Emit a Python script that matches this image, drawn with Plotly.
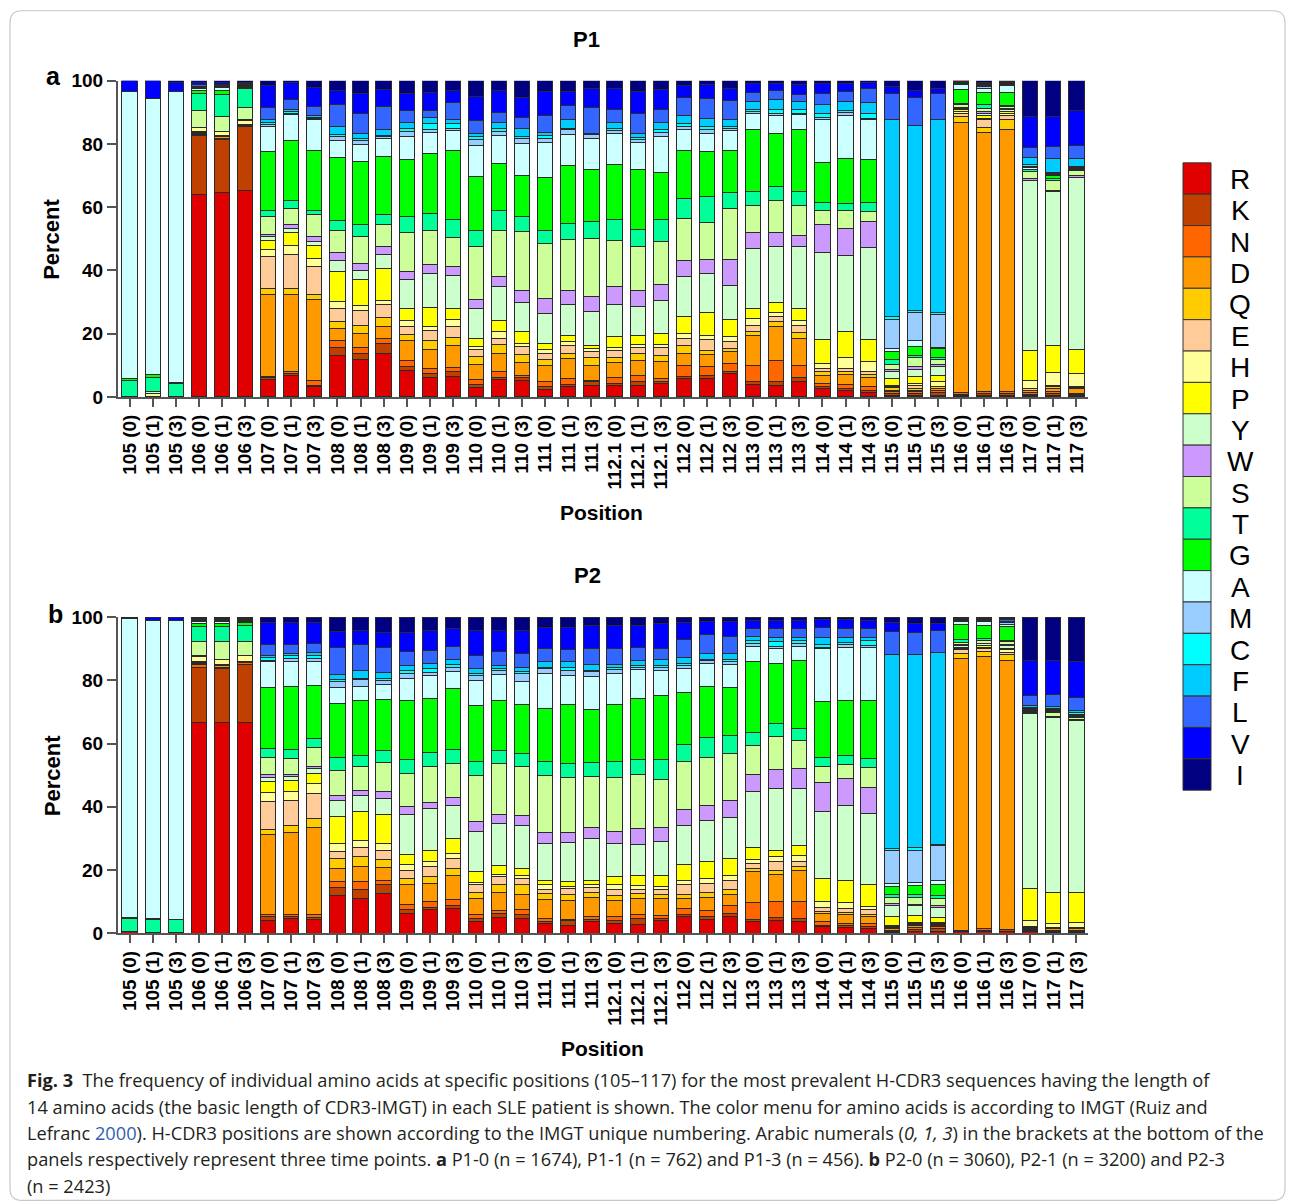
import plotly.graph_objects as go

# Page placement model (measured): the figure sits 8px from the left edge and
# the captured picture maps figure y to S*(T + y).  Reference pixel positions
# are converted through px()/py() below.
FIG_W, FIG_H = 1279, 1206
DX = 8
S, T = 0.982, 18.6

POSITIONS = ["105", "106", "107", "108", "109", "110", "111", "112.1", "112", "113", "114", "115", "116", "117"]
TIMES = ["0", "1", "3"]
CATEGORIES = [f"{p} ({t})" for p in POSITIONS for t in TIMES]

AMINO_ACIDS = ["R", "K", "N", "D", "Q", "E", "H", "P", "Y", "W", "S", "T", "G", "A", "M", "C", "F", "L", "V", "I"]
AA_COLORS = ["#E00000", "#C04000", "#FF6600", "#FF9900", "#FFCC00", "#FFCC99", "#FFFF99", "#FFFF00",
             "#CCFFCC", "#CC99FF", "#CCFF99", "#00FF99", "#00FF00", "#CCFFFF", "#99CCFF", "#00FFFF",
             "#00CCFF", "#3366FF", "#0000FF", "#000080"]

# ---------------- P1 (panel a), percent per amino acid, 42 bars ----------------
P1_R = [.3, .3, .3, 64.1, 64.7, 65.2, 5.5, 6.9, 3.4, 13.2, 11.8, 13.9, 8.4, 6.1, 6.5, 3.0, 5.5, 5.1, 2.3, 3.4, 3.7, 3.7, 3.7, 4.2, 5.8, 5.8, 7.4, 4.0, 3.7, 4.8, 2.6, 1.9, 1.3, .5, .5, .5, .5, .5, .5, .5, .5, .5]
P1_K = [0, 0, 0, 18.5, 16.6, 20.3, .5, .5, .3, 2.6, 1.9, 3.0, 1.1, 1.3, 1.4, 1.0, .8, 1.0, .9, .6, 1.1, .5, 1.1, .6, .7, 1.1, .8, .8, 1.1, 1.3, .8, .7, .6, .6, .6, .8, .3, .6, .6, .3, .6, .3]
P1_N = [0, 0, 0, .5, .5, .3, .5, .5, 1.6, 1.9, 2.1, 1.6, 2.1, 1.6, 1.3, 1.5, 1.8, .8, 1.6, 1.8, .5, 2.1, 2.1, 1.0, 3.5, 2.8, 2.4, 5.2, 6.8, 3.9, .8, 1.4, 1.3, .5, .5, .6, .5, .5, .5, .5, .5, .3]
P1_D = [0, 0, 0, .3, .5, .2, 26.0, 24.6, 25.5, 3.9, 4.3, 3.9, 6.1, 6.0, 7.2, 4.8, 5.6, 3.9, 5.2, 6.3, 4.7, 4.5, 4.7, 5.3, 3.9, 3.8, 3.7, 9.5, 10.8, 8.5, 2.7, 3.2, 2.9, .5, .5, .7, 85.5, 82.0, 82.9, .6, 1.0, 1.5]
P1_Q = [0, 0, 0, .3, .3, 0, 1.8, 1.8, 1.7, 2.2, 2.6, 2.7, 2.0, 2.7, 2.3, 2.6, 3.0, 2.6, 1.8, 1.8, 2.5, 1.7, 2.1, 2.1, 2.5, 1.3, 1.0, 1.1, 1.4, 1.8, 1.0, .9, 1.1, .9, .5, .6, 1.9, 1.7, 3.4, .3, .6, .3]
P1_E = [0, 0, 0, .3, .2, .2, 10.1, 10.6, 8.7, 4.2, 4.5, 4.3, 2.7, 3.4, 3.7, 2.1, 1.8, 2.7, 2.1, 2.5, 1.8, 2.3, 2.1, 2.6, 2.1, 3.4, 2.1, 2.1, 1.5, 2.4, 1.1, .9, 1.0, .4, 1.1, .2, 1.1, 2.3, 1.0, .4, .3, .3]
P1_H = [0, .8, 0, 1.3, 1.1, 1.1, 2.1, 3.1, 2.6, 2.1, 1.8, 1.2, 1.7, 1.1, 2.1, 1.1, 2.1, .8, 1.1, 1.0, 1.0, 1.0, .9, .9, 1.6, 1.3, 1.6, 2.1, 1.3, 1.6, 1.6, 3.5, 2.9, .3, .5, 1.4, .5, .6, .9, 2.7, 4.1, 4.2]
P1_P = [0, 0, 0, 0, 0, 0, 3.1, 4.0, 4.2, 9.5, 8.2, 10.1, 3.9, 6.1, 3.5, 2.4, 3.5, 3.9, 1.9, 2.1, 1.1, 3.2, 2.8, 3.4, 5.5, 7.1, 5.5, 3.2, 3.2, 3.7, 7.6, 8.3, 7.1, 2.1, 2.3, 2.1, .5, .7, .5, 9.5, 8.8, 7.6]
P1_Y = [0, .5, 0, 0, .2, 0, 1.3, 1.3, 1.1, 3.7, 2.9, 4.4, 9.0, 10.6, 10.5, 9.5, 10.7, 9.0, 9.5, 9.8, 10.5, 10.4, 9.2, 10.5, 12.6, 12.3, 10.6, 19.0, 17.7, 19.7, 27.4, 23.8, 29.0, 2.1, 2.2, 2.8, .5, .9, .7, 53.8, 48.5, 54.5]
P1_W = [0, 0, 0, 0, 0, .3, .6, 1.1, 1.6, 2.3, 2.1, 2.4, 2.8, 3.1, 2.7, 2.8, 3.2, 4.0, 4.8, 4.5, 4.8, 5.4, 5.1, 5.0, 5.1, 4.6, 8.4, 5.0, 4.5, 3.5, 8.8, 8.7, 8.4, .8, .8, .6, .4, .5, .2, .6, .3, .4]
P1_S = [0, 0, 0, 5.3, 4.6, 4.1, 5.5, 5.3, 6.9, 6.9, 8.5, 6.9, 12.2, 10.8, 9.3, 16.7, 14.8, 18.5, 17.4, 16.0, 18.5, 14.8, 13.9, 13.5, 13.2, 11.8, 16.2, 8.4, 10.0, 9.2, 4.5, 5.8, 3.0, 1.6, 3.0, 1.5, .7, 1.0, .7, 2.1, 3.2, 1.7]
P1_T = [5.0, 4.7, 3.9, 5.5, 7.1, 5.8, 1.9, 2.4, 1.3, 3.3, 4.0, 3.2, 5.0, 5.1, 5.7, 5.3, 6.1, 4.7, 4.0, 5.1, 5.2, 6.4, 5.3, 6.9, 6.3, 8.1, 4.9, 4.5, 4.7, 4.5, 2.6, 2.1, 2.9, 1.5, .7, .7, .5, 1.1, .2, .5, .8, .4]
P1_G = [.5, .9, .3, .8, 1.0, .3, 18.7, 19.0, 19.2, 20.0, 19.7, 18.6, 18.2, 19.2, 21.9, 16.9, 15.0, 12.9, 16.9, 18.2, 16.4, 17.6, 19.0, 15.0, 15.3, 14.2, 13.2, 19.8, 16.5, 19.6, 12.6, 14.3, 13.5, 2.5, 2.9, 2.8, 4.2, 3.9, 4.2, .2, .7, .3]
P1_A = [90.8, 87.1, 92.1, .5, 1.0, .5, 7.9, 8.1, 9.5, 5.3, 5.6, 5.6, 7.2, 6.5, 6.1, 9.7, 8.7, 10.4, 11.0, 9.8, 10.0, 9.8, 8.5, 11.4, 6.4, 5.8, 6.4, 5.1, 5.7, 4.7, 13.8, 13.4, 12.6, 1.0, 1.6, .3, 1.6, 1.4, 2.1, .6, .6, .2]
P1_M = [0, 0, 0, .3, .2, .3, .6, .6, .6, 1.3, 1.1, .5, 1.5, 1.1, .8, 1.9, 1.3, 1.5, 1.3, 1.6, 1.1, .9, 1.0, 1.2, 1.0, 1.3, .8, .5, .6, .6, .5, 1.1, .6, 9.2, 8.9, 10.6, .3, .4, .3, .3, .2, .2]
P1_C = [0, 0, 0, .2, .2, 0, .7, .4, .3, .7, .7, .3, 1.0, 1.7, 1.4, 1.1, 1.1, .6, .8, .5, .3, .7, .7, .9, 1.1, .8, .5, .7, 1.5, 1.2, 1.4, .6, 1.6, .8, .6, .4, .2, .3, .3, .5, .3, .2]
P1_F = [0, 0, 0, .3, .2, .2, .8, .6, .5, 2.4, 1.4, 2.1, 1.9, 2.0, 1.5, 1.0, 1.8, 2.4, 1.0, 2.6, .2, 1.8, 1.2, 2.3, 2.3, 2.7, 2.1, 2.5, 3.0, 2.5, 2.8, 2.9, 3.3, 62.6, 58.5, 61.3, .2, .3, .2, 2.2, 4.5, 2.4]
P1_L = [0, 0, 0, .6, .3, .3, 4.1, 3.4, 2.9, 7.1, 6.6, 7.2, 3.7, 2.2, 5.2, 4.0, 3.2, 3.7, 5.3, 4.5, 8.3, 4.0, 6.4, 4.2, 5.9, 6.3, 6.2, 2.8, 2.9, 2.1, 3.5, 3.1, 4.6, 8.0, 9.1, 8.0, .3, .4, .2, 3.2, 3.7, 4.2]
P1_V = [3.4, 5.7, 2.7, .7, .8, .4, 6.8, 5.1, 6.1, 4.3, 6.1, 5.2, 5.6, 5.7, 3.8, 7.6, 6.8, 6.3, 7.7, 4.5, 5.7, 6.9, 6.8, 6.1, 3.6, 4.2, 3.9, 2.8, 2.2, 3.1, 3.0, 2.4, 1.6, 2.3, 2.1, 1.8, .3, .4, .4, 10.0, 9.5, 11.0]
P1_I = [0, 0, .7, .5, .5, .5, 1.5, .7, 2.0, 3.1, 4.1, 2.9, 3.9, 3.7, 3.1, 5.0, 3.2, 5.2, 3.4, 3.4, 2.6, 2.3, 3.4, 2.9, 1.6, 1.3, 2.3, .9, .9, 1.3, .9, 1.0, .7, 1.8, 3.1, 2.3, 0, .5, .2, 11.2, 11.3, 9.5]

# ---------------- P2 (panel b) ----------------
P2_R = [.5, .2, .3, 66.8, 66.6, 66.6, 4.2, 4.7, 4.5, 11.9, 11.1, 12.6, 6.3, 7.4, 7.7, 3.7, 4.9, 4.7, 3.2, 2.4, 3.7, 3.2, 2.8, 3.9, 5.3, 4.5, 5.3, 3.7, 3.9, 3.7, 2.1, 1.8, 1.6, .3, .5, .7, .5, .6, .5, .5, .3, .4]
P2_K = [0, 0, 0, 17.4, 17.1, 18.3, 1.1, .7, .4, 2.5, 2.6, 2.7, 1.1, .7, 1.2, 1.0, 1.4, 1.1, .6, 1.5, .8, 1.0, 1.9, .8, .7, .8, 1.0, .8, 1.0, 1.0, .3, .6, .5, .4, .6, .7, .3, .3, .6, .3, .3, .2]
P2_N = [0, 0, 0, .7, .5, .7, .5, .6, .9, 1.9, 2.6, 1.5, 1.8, 2.1, 1.9, 1.1, .8, 1.6, .9, .6, .8, 1.1, 1.1, .9, 1.9, 1.8, 2.6, 5.3, 5.3, 5.5, 1.3, .8, 1.1, .3, .7, .7, .2, .5, .2, .3, .3, .3]
P2_D = [0, 0, 0, .3, .5, .2, 25.3, 25.9, 27.6, 4.2, 4.8, 3.9, 6.1, 5.6, 7.4, 5.3, 5.8, 4.9, 6.1, 6.0, 6.0, 5.2, 5.3, 5.5, 3.2, 4.2, 3.4, 9.7, 8.4, 9.5, 2.6, 2.8, 2.1, .4, .6, .4, 85.8, 86.0, 85.0, .5, .5, .5]
P2_Q = [0, 0, 0, .3, .1, .1, 1.8, 2.3, 2.9, 3.0, 3.1, 2.5, 1.9, 2.1, 2.3, 1.8, 2.6, 3.0, 1.8, 1.8, 1.6, 1.6, 1.5, 1.2, 1.2, 1.6, 1.4, 1.0, 1.4, 1.4, .5, .6, .7, .5, .4, .4, 1.8, 1.8, 1.8, .2, .2, .3]
P2_E = [0, 0, 0, .3, .1, .1, 8.7, 7.9, 7.9, 2.5, 2.9, 3.1, 2.8, 3.2, 3.0, 2.4, 2.4, 2.1, 1.4, 1.9, 1.5, 1.9, 1.4, 1.7, 3.2, 2.9, 3.1, 1.6, 2.6, 1.7, 1.3, 1.3, 1.4, .3, .4, .2, 1.2, .8, .8, .2, .1, .1]
P2_H = [0, 0, 0, 1.6, 1.6, 1.8, 2.9, 2.8, 3.2, 2.4, 2.4, 2.1, 1.8, 1.5, 1.8, .8, .7, .8, 1.3, .5, 1.1, 1.3, 1.1, .7, 1.3, 1.4, 1.4, 1.1, 1.6, 1.7, 1.9, 1.9, 1.0, .2, .2, .3, .4, .4, .8, 2.2, 1.5, 1.7]
P2_P = [0, 0, 0, 0, 0, 0, 3.6, 3.5, 3.1, 8.4, 8.9, 9.2, 3.1, 3.7, 4.7, 3.4, 2.8, 2.3, 1.5, 1.6, 1.3, 2.6, 3.3, 3.5, 5.0, 5.6, 5.5, 3.9, 2.1, 3.2, 7.2, 7.0, 7.1, 2.9, 2.2, 1.5, .3, .6, .4, 10.0, 9.7, 9.4]
P2_Y = [0, 0, 0, .2, .2, .2, 1.1, 1.1, 1.6, 5.3, 5.3, 5.0, 12.7, 13.2, 10.5, 12.8, 13.3, 13.5, 11.6, 12.4, 13.2, 10.5, 9.7, 10.7, 12.4, 13.0, 12.8, 17.8, 19.5, 18.1, 21.2, 23.5, 22.4, 3.6, 3.1, 3.2, .5, .5, .9, 55.3, 55.5, 54.5]
P2_W = [0, 0, 0, .1, 0, 0, 1.0, .7, .8, 1.4, 1.6, 2.1, 2.4, 1.9, 2.3, 3.2, 2.9, 3.2, 3.5, 3.2, 3.4, 3.9, 5.1, 4.5, 5.1, 4.7, 5.6, 5.3, 6.1, 6.3, 9.3, 8.6, 8.1, .5, .4, .8, .3, .3, .2, .3, .2, .2]
P2_S = [0, 0, 0, 4.5, 5.5, 4.2, 5.3, 5.1, 6.0, 8.1, 7.3, 9.3, 10.5, 11.2, 10.9, 14.3, 16.1, 15.4, 17.9, 17.3, 16.1, 16.9, 17.0, 15.3, 14.9, 15.0, 14.7, 9.3, 10.2, 9.0, 5.2, 4.5, 6.3, 1.9, 2.2, 2.2, .8, .8, 1.0, .4, 1.2, .8]
P2_T = [4.2, 4.3, 4.0, 4.7, 4.9, 5.1, 2.9, 2.9, 2.7, 3.9, 3.5, 3.9, 4.6, 4.6, 4.5, 4.4, 4.2, 4.2, 4.6, 4.5, 4.5, 5.2, 4.9, 6.4, 5.5, 6.3, 5.8, 4.0, 4.2, 3.8, 2.6, 2.9, 3.0, 1.0, 1.0, 1.0, .8, .6, .3, .2, .2, .2]
P2_G = [.3, .2, .2, 1.1, 1.0, 1.0, 19.2, 19.7, 16.8, 17.1, 17.6, 16.1, 18.6, 17.2, 19.2, 17.9, 15.8, 15.5, 16.7, 18.6, 16.8, 17.9, 19.1, 20.0, 16.4, 16.1, 15.0, 22.5, 19.0, 21.4, 17.9, 17.4, 18.4, 2.4, 2.8, 3.4, 4.7, 4.2, 4.6, .2, .2, .2]
P2_A = [94.5, 94.2, 94.4, .7, .5, .4, 8.2, 7.9, 7.6, 5.0, 4.5, 4.6, 6.8, 7.0, 5.4, 7.9, 8.1, 7.4, 11.0, 9.1, 10.3, 9.8, 9.3, 8.1, 7.6, 7.4, 7.3, 4.8, 4.9, 4.5, 16.6, 16.8, 16.8, 1.1, 1.0, 1.3, 1.0, 1.2, .7, .3, .3, .2]
P2_M = [0, 0, 0, .3, .2, .3, .5, 1.0, .8, 2.1, 2.1, 1.4, 1.6, 1.2, 1.4, 1.6, 1.4, 2.4, 1.6, 1.8, 1.7, 1.4, .7, 1.0, 1.0, 1.0, 1.1, .8, .6, .8, .5, .8, .6, 10.5, 10.2, 10.9, .3, .3, .5, .2, .2, .2]
P2_C = [0, 0, 0, .2, .2, .2, .8, .9, 1.1, .6, .4, .7, 1.1, 1.1, .7, .5, .5, .7, .5, 1.0, .3, .7, .5, .5, .6, .3, .6, 1.0, 1.5, 1.0, .8, .8, 1.5, .5, .8, .4, .2, .2, .2, .4, .4, .6]
P2_F = [0, 0, 0, .2, .2, .2, .8, .7, .8, 1.5, 2.5, 1.9, 1.5, 1.6, 1.7, 1.8, 1.0, 1.4, 1.6, 1.8, 1.8, .7, 1.6, 1.9, 1.8, 1.8, 1.8, 1.4, 1.4, 1.1, 2.1, 1.6, .8, 61.3, 61.0, 60.6, .2, .2, .2, .5, .6, .6]
P2_L = [0, 0, 0, .2, .2, .2, 3.4, 2.9, 2.9, 8.7, 8.1, 7.9, 4.5, 4.2, 4.2, 4.0, 4.5, 4.2, 4.2, 3.8, 5.1, 5.1, 4.2, 3.6, 5.8, 6.0, 5.6, 2.5, 2.6, 2.8, 3.4, 2.8, 3.1, 7.4, 7.0, 7.1, .3, .2, .6, 3.3, 3.9, 4.2]
P2_V = [.5, 1.1, 1.1, .2, .3, .2, 6.9, 6.9, 6.6, 4.8, 4.5, 4.6, 5.9, 6.3, 5.7, 7.9, 6.6, 7.4, 6.8, 7.0, 7.4, 7.4, 6.7, 7.7, 5.3, 4.2, 4.6, 2.4, 2.6, 2.4, 2.5, 2.8, 2.4, 2.7, 2.8, 2.1, .2, .3, .4, 11.0, 10.8, 11.4]
P2_I = [0, 0, 0, .2, .3, .2, 1.8, 1.8, 1.8, 4.7, 4.2, 4.9, 4.9, 4.2, 3.5, 4.2, 4.2, 4.2, 3.2, 3.2, 2.6, 2.6, 2.8, 2.1, 1.8, 1.4, 1.4, 1.1, 1.1, 1.1, .7, .7, 1.1, 1.8, 2.1, 2.1, .2, .2, .3, 13.7, 13.6, 14.0]

P1_SERIES = [P1_R, P1_K, P1_N, P1_D, P1_Q, P1_E, P1_H, P1_P, P1_Y, P1_W, P1_S, P1_T, P1_G, P1_A, P1_M, P1_C, P1_F, P1_L, P1_V, P1_I]
P2_SERIES = [P2_R, P2_K, P2_N, P2_D, P2_Q, P2_E, P2_H, P2_P, P2_Y, P2_W, P2_S, P2_T, P2_G, P2_A, P2_M, P2_C, P2_F, P2_L, P2_V, P2_I]

Y_TICKS = [0, 20, 40, 60, 80, 100]


def px(x):
    """reference picture x (pixels) -> paper fraction"""
    return (x - DX) / FIG_W


def py(y):
    """reference picture y (pixels from top) -> paper fraction"""
    return 1 - (y / S - T) / FIG_H


fig = go.Figure()
for series, xa, ya in [(P1_SERIES, "x", "y"), (P2_SERIES, "x2", "y2")]:
    for aa, col, vals in zip(AMINO_ACIDS, AA_COLORS, series):
        fig.add_trace(go.Bar(
            x=CATEGORIES, y=vals, name=aa, xaxis=xa, yaxis=ya,
            marker=dict(color=col, line=dict(color="#2a2a2a", width=1)),
            showlegend=False,
            hovertemplate=aa + " %{x}: %{y}%<extra></extra>",
        ))

AXFONT = dict(family="Liberation Sans, Arial, sans-serif", size=19, color="black", weight="bold")
x_common = dict(type="category", categoryorder="array", categoryarray=CATEGORIES,
                range=[-0.5, 41.5], domain=[px(118), px(1088)], tickangle=-90,
                tickfont=AXFONT, showline=True, linecolor="#555", linewidth=2,
                ticks="outside", ticklen=8, tickwidth=1.5, tickcolor="#555",
                showgrid=False, zeroline=False, fixedrange=True)
y_common = dict(range=[0, 100], tickvals=Y_TICKS, tickfont=AXFONT, showline=True,
                linecolor="#555", linewidth=2, ticks="outside", ticklen=9, tickwidth=1.5,
                tickcolor="#555", showgrid=False, zeroline=False, fixedrange=True)

fig.update_layout(
    width=FIG_W, height=FIG_H, margin=dict(l=0, r=0, t=0, b=0),
    paper_bgcolor="white", plot_bgcolor="white",
    barmode="stack", bargap=0.34,
    xaxis=dict(anchor="y", **x_common),
    yaxis=dict(anchor="x", domain=[py(397), py(81)], **y_common),
    xaxis2=dict(anchor="y2", **x_common),
    yaxis2=dict(anchor="x2", domain=[py(933), py(617)], **y_common),
)

BOLD = "Liberation Sans, Arial, sans-serif"
ann = []


def add_text(text, x, y, size, family=BOLD, weight="bold", angle=0, xanchor="center", color="black"):
    ann.append(dict(text=text, x=px(x), y=py(y), xref="paper", yref="paper", showarrow=False,
                    xanchor=xanchor, yanchor="middle", textangle=angle,
                    font=dict(family=family, size=size, color=color, weight=weight)))


add_text("P1", 586, 40, 22)
add_text("P2", 587, 575, 22)
add_text("a", 53, 76, 25)
add_text("b", 55, 614, 25)
add_text("Percent", 52, 239, 22, angle=-90)
add_text("Percent", 52, 775, 22, angle=-90)
add_text("Position", 601, 512, 21)
add_text("Position", 602, 1048, 21)

# legend column
shapes = []
LEG_TOP, LEG_STEP = 163, 31.35
for i, (aa, col) in enumerate(zip(AMINO_ACIDS, AA_COLORS)):
    y0 = LEG_TOP + i * LEG_STEP
    shapes.append(dict(type="rect", xref="paper", yref="paper",
                       x0=px(1183), x1=px(1211), y0=py(y0 + LEG_STEP), y1=py(y0),
                       fillcolor=col, line=dict(color="#333", width=1)))
    add_text(aa, 1240, y0 + LEG_STEP / 2 + 1, 28, family="Liberation Sans, Arial, sans-serif", weight="normal")

# outer rounded frame
fx0, fy0, fx1, fy1, r = 10, 11, 1285, 1200, 12
path = (f"M {px(fx0 + r)},{py(fy0)} L {px(fx1 - r)},{py(fy0)} Q {px(fx1)},{py(fy0)} {px(fx1)},{py(fy0 + r)} "
        f"L {px(fx1)},{py(fy1 - r)} Q {px(fx1)},{py(fy1)} {px(fx1 - r)},{py(fy1)} "
        f"L {px(fx0 + r)},{py(fy1)} Q {px(fx0)},{py(fy1)} {px(fx0)},{py(fy1 - r)} "
        f"L {px(fx0)},{py(fy0 + r)} Q {px(fx0)},{py(fy0)} {px(fx0 + r)},{py(fy0)} Z")
shapes.append(dict(type="path", xref="paper", yref="paper", path=path,
                   line=dict(color="#c8c8c8", width=1.2), layer="below"))

CAPTION = [
    "<b>Fig. 3</b>\u00a0\u00a0The frequency of individual amino acids at specific positions (105–117) for the most prevalent H-CDR3 sequences having the length of",
    "14 amino acids (the basic length of CDR3-IMGT) in each SLE patient is shown. The color menu for amino acids is according to IMGT (Ruiz and",
    "Lefranc <span style='color:#2f5fb3'>2000</span>). H-CDR3 positions are shown according to the IMGT unique numbering. Arabic numerals (<i>0, 1, 3</i>) in the brackets at the bottom of the",
    "panels respectively represent three time points. <b>a</b> P1-0 (n = 1674), P1-1 (n = 762) and P1-3 (n = 456). <b>b</b> P2-0 (n = 3060), P2-1 (n = 3200) and P2-3",
    "(n = 2423)",
]
CAP_Y = [1080, 1107, 1133, 1159, 1186]
for line, yy in zip(CAPTION, CAP_Y):
    add_text(line, 25, yy, 18.2, family="Open Sans, Noto Sans, sans-serif", weight="normal",
             xanchor="left", color="#231f20")

fig.update_layout(annotations=ann, shapes=shapes)
fig.write_html("out.html")
